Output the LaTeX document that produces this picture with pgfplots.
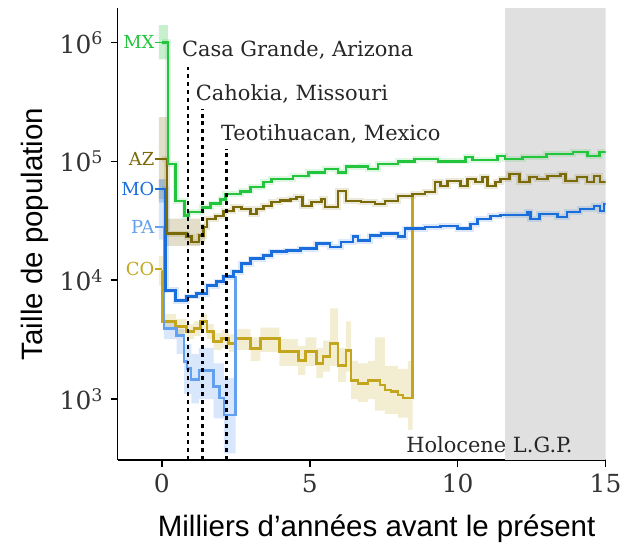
\documentclass[border=0pt]{standalone}
\usepackage{fontspec}
\setmainfont{DejaVu Serif}
\setsansfont{Liberation Sans}
\usepackage{pgfplots}
\usepackage{pgfplotstable}
\pgfplotsset{compat=1.18}

\definecolor{mx}{RGB}{34,197,60}
\definecolor{az}{RGB}{122,106,10}
\definecolor{mo}{RGB}{25,110,220}
\definecolor{pa}{RGB}{100,160,240}
\definecolor{co}{RGB}{195,165,30}

% step series: value holds from x to the next x
\pgfplotstableread{
x y
0 1e6
0.2 9.5e4
0.47 4.65e4
0.77 3.5e4
0.9 3.75e4
1.35 4.1e4
1.65 4.4e4
1.99 4.8e4
2.15 5.3e4
2.66 5.6e4
3.0 6.1e4
3.43 6.7e4
3.7 7.1e4
4.44 7.5e4
4.95 8.1e4
5.52 8.6e4
5.96 8.1e4
6.23 9.0e4
6.73 9.1e4
6.97 8.6e4
7.31 9.5e4
7.98 1.0e5
8.55 1.05e5
9.33 1.0e5
10.27 1.09e5
10.5 1.03e5
11.35 1.11e5
11.6 1.05e5
12.2 1.09e5
13.0 1.15e5
13.9 1.2e5
14.4 1.11e5
14.8 1.2e5
15 1.22e5
}\mxdata

\pgfplotstableread{
x y
0 1.05e5
0.17 2.46e4
0.84 2.32e4
1.01 2.1e4
1.25 2.37e4
1.41 2.81e4
1.52 3.28e4
1.82 3.48e4
2.09 3.83e4
2.42 4.14e4
2.69 3.98e4
3.0 3.61e4
3.2 3.98e4
3.43 4.22e4
3.70 4.56e4
4.0 4.7e4
4.34 4.83e4
4.55 5.02e4
4.75 4.22e4
5.05 4.56e4
5.4 4.83e4
5.52 4.14e4
5.96 5.64e4
6.23 4.65e4
6.73 4.56e4
7.2 4.39e4
7.54 4.65e4
7.98 5.12e4
8.48 5.32e4
8.89 5.53e4
9.23 6.7e4
9.43 6.2e4
9.66 6.84e4
10.1 6.2e4
10.34 7.1e4
10.6 6.7e4
10.84 7.4e4
11.0 6.2e4
11.28 6.7e4
11.45 7.1e4
11.75 7.83e4
12.09 6.7e4
12.42 7.4e4
12.69 7.1e4
13.03 7.54e4
13.47 7.83e4
13.64 6.84e4
14.04 7.4e4
14.38 6.7e4
14.61 7.54e4
14.81 6.7e4
15 6.7e4
}\azdata

\pgfplotstableread{
x y
0 5.86e4
0.13 8.2e3
0.47 6.75e3
0.84 7.3e3
1.18 7.73e3
1.52 9.0e3
1.85 9.73e3
2.09 1.07e4
2.42 1.18e4
2.69 1.38e4
3.0 1.52e4
3.43 1.61e4
3.7 1.74e4
4.21 1.77e4
4.68 1.84e4
5.22 2.03e4
5.69 1.91e4
6.06 2.1e4
6.46 2.32e4
6.63 2.15e4
7.04 2.37e4
7.41 2.46e4
7.98 2.32e4
8.22 2.71e4
8.89 2.81e4
9.43 2.87e4
10.0 2.71e4
10.44 2.98e4
10.67 3.28e4
11.11 3.48e4
11.45 3.55e4
12.36 3.76e4
12.46 3.28e4
12.76 3.61e4
13.37 3.41e4
13.7 3.76e4
14.14 3.98e4
14.61 4.22e4
14.81 3.83e4
14.95 4.39e4
15 4.39e4
}\modata

\pgfplotstableread{
x y
0 2.81e4
0.07 3.93e3
0.5 3.44e3
0.75 2.08e3
0.85 1.82e3
0.98 1.47e3
1.25 1.75e3
1.75 1.28e3
1.95 1.02e3
2.1 733
2.49 1.09e4
}\padata

\pgfplotstableread{
x y
0 1.2e4
0.03 4.5e3
0.47 4.08e3
0.84 3.71e3
1.08 3.93e3
1.31 4.5e3
1.52 3.71e3
1.75 3.05e3
2.02 3.24e3
2.26 2.94e3
2.49 3.24e3
3.0 2.67e3
3.33 3.24e3
3.97 2.52e3
4.61 2.12e3
4.85 2.52e3
5.22 2.0e3
5.45 2.29e3
5.69 2.94e3
5.96 1.92e3
6.23 2.57e3
6.4 1.44e3
6.63 1.36e3
6.97 1.44e3
7.37 1.31e3
7.54 1.19e3
7.74 1.16e3
7.98 1.08e3
8.15 1.02e3
8.48 5.02e4
}\codata

\begin{document}
\begin{tikzpicture}
\begin{axis}[
  scale only axis, width=245pt, height=227pt,
  xmin=-1.5, xmax=15,
  ymode=log, ymin=307, ymax=1.95e6,
  axis x line*=bottom, axis y line*=left,
  axis line style={line width=0.8pt, black},
  tick align=outside, major tick length=3.5pt,
  tick style={line width=0.8pt, black},
  yminorticks=false,
  xtick={0,5,10,15},
  ytick={1e3,1e4,1e5,1e6},
  yticklabels={10\textsuperscript{3},10\textsuperscript{4},10\textsuperscript{5},10\textsuperscript{6}},
  /pgf/number format/assume math mode=true,
  ticklabel style={font=\fontsize{12.5}{15}\selectfont, text=black!80},
  xlabel={Milliers d’années avant le présent},
  ylabel={Taille de population},
  xlabel style={font=\sffamily\fontsize{14.8}{17}\selectfont, at={(axis description cs:0.531,0)}, anchor=north, yshift=-24pt},
  ylabel style={font=\sffamily\fontsize{14.8}{17}\selectfont, at={(axis description cs:-0.1694,0.5)}, anchor=center},
]
% grey L.G.P. span
\addplot[fill=black!12, draw=none] coordinates {(11.6,307) (11.6,1.95e6) (15,1.95e6) (15,307)};

% uncertainty bands: upper edge forward, lower edge back
\addplot[const plot, fill=mx, fill opacity=0.25, draw=none] coordinates {(-0.1,1.4e6) (0.2,1.4e6) (0.2,7.2e5) (-0.1,7.2e5)};
\addplot[const plot, fill=mo, fill opacity=0.25, draw=none] coordinates {(-0.1,7.1e4) (0.13,7.1e4) (0.13,4.5e4) (-0.1,4.5e4)};
\addplot[const plot, fill=az, fill opacity=0.22, draw=none] coordinates {
  (-0.1,2.35e5) (0.17,3.3e4) (1.3,3.0e4) (1.45,3.0e4)
  (1.45,2.1e4) (1.3,1.95e4) (0.17,4.8e4) (-0.1,4.8e4)};
\addplot[const plot, fill=pa, fill opacity=0.25, draw=none] coordinates {
  (-0.1,7e4) (0.07,4.6e3) (0.5,3.9e3) (0.75,2.9e3) (1.0,2.4e3) (1.25,2.7e3) (1.75,2.0e3) (2.1,1.5e3) (2.49,1.5e3)
  (2.49,350) (2.1,690) (1.75,1.0e3) (1.25,920) (1.0,1.1e3) (0.75,2.4e3) (0.5,3.2e3) (0.07,2.2e4) (-0.1,2.2e4)};
\addplot[const plot, fill=co, fill opacity=0.2, draw=none] coordinates {
  (-0.1,1.6e4) (0.03,5.2e3) (0.47,4.7e3) (0.84,4.3e3) (1.08,4.5e3) (1.31,5.2e3) (1.52,4.3e3) (1.75,3.6e3)
  (2.02,3.8e3) (2.26,3.5e3) (2.49,3.9e3) (3.0,3.3e3) (3.33,4.0e3) (3.97,3.2e3) (4.61,2.8e3) (4.85,3.3e3)
  (5.22,2.7e3) (5.45,3.1e3) (5.69,5.8e3) (5.96,2.7e3) (6.23,4.5e3) (6.4,2.1e3) (6.63,2.0e3) (6.97,2.1e3)
  (7.2,3.3e3) (7.54,1.9e3) (7.98,1.8e3) (8.32,2.1e3) (8.48,2.1e3)
  (8.48,550) (8.32,700) (7.98,750) (7.54,800) (7.2,1.0e3) (6.97,950) (6.63,1.0e3) (6.4,1.7e3)
  (6.23,1.4e3) (5.96,1.9e3) (5.69,1.7e3) (5.45,1.5e3) (5.22,1.9e3) (4.85,1.6e3) (4.61,1.9e3) (3.97,2.5e3)
  (3.33,2.1e3) (3.0,2.6e3) (2.49,2.5e3) (2.26,2.7e3) (2.02,2.6e3) (1.75,3.2e3) (1.52,3.9e3) (1.31,3.4e3)
  (1.08,3.2e3) (0.84,3.5e3) (0.47,3.9e3) (0.03,9e3) (-0.1,9e3)};

\addplot[const plot, mx, line width=3pt, opacity=0.15] table {\mxdata};
\addplot[const plot, az, line width=3pt, opacity=0.15] table {\azdata};
\addplot[const plot, mo, line width=3pt, opacity=0.15] table {\modata};

% medians
\addplot[const plot, co, line width=1.3pt] table {\codata};
\addplot[const plot, pa, line width=1.3pt] table {\padata};
\addplot[const plot, mo, line width=1.3pt] table {\modata};
\addplot[const plot, az, line width=1.3pt] table {\azdata};
\addplot[const plot, mx, line width=1.3pt] table {\mxdata};

% sites
\addplot[black, line width=1.4pt, dash pattern=on 2pt off 2pt] coordinates {(0.88,307) (0.88,6.2e5)};
\addplot[black, line width=1.4pt, dash pattern=on 2pt off 2pt] coordinates {(1.38,307) (1.38,2.74e5)};
\addplot[black, line width=1.4pt, dash pattern=on 2pt off 2pt] coordinates {(2.19,307) (2.19,1.27e5)};

\begin{scope}[every node/.style={inner sep=0pt, anchor=west, text=black!85, font=\fontsize{10.5}{12}\selectfont}]
\node at (axis cs:0.67,8.7e5) {Casa Grande, Arizona};
\node at (axis cs:1.14,3.66e5) {Cahokia, Missouri};
\node at (axis cs:1.99,1.69e5) {Teotihuacan, Mexico};
\node at (axis cs:8.25,411) {Holocene L.G.P.};
\end{scope}

\begin{scope}[every node/.style={inner sep=0pt, anchor=east, font=\fontsize{9}{10}\selectfont}]
\node[text=mx] at (axis cs:-0.24,1e6) {MX};
\node[text=az] at (axis cs:-0.24,1.05e5) {AZ};
\node[text=mo] at (axis cs:-0.24,5.86e4) {MO};
\node[text=pa] at (axis cs:-0.24,2.81e4) {PA};
\node[text=co] at (axis cs:-0.24,1.25e4) {CO};
\end{scope}
\draw[mx, line width=0.8pt] (axis cs:-0.22,1e6) -- (axis cs:0,1e6);
\draw[az, line width=0.8pt] (axis cs:-0.22,1.05e5) -- (axis cs:0,1.05e5);
\draw[mo, line width=0.8pt] (axis cs:-0.22,5.86e4) -- (axis cs:0,5.86e4);
\draw[pa, line width=0.8pt] (axis cs:-0.22,2.81e4) -- (axis cs:0,2.81e4);
\draw[co, line width=0.8pt] (axis cs:-0.22,1.25e4) -- (axis cs:0,1.25e4);
\end{axis}
\path ([shift={(-59pt,-42pt)}]current axis.south west) rectangle ([shift={(255pt,231pt)}]current axis.south west);
\end{tikzpicture}
\end{document}
